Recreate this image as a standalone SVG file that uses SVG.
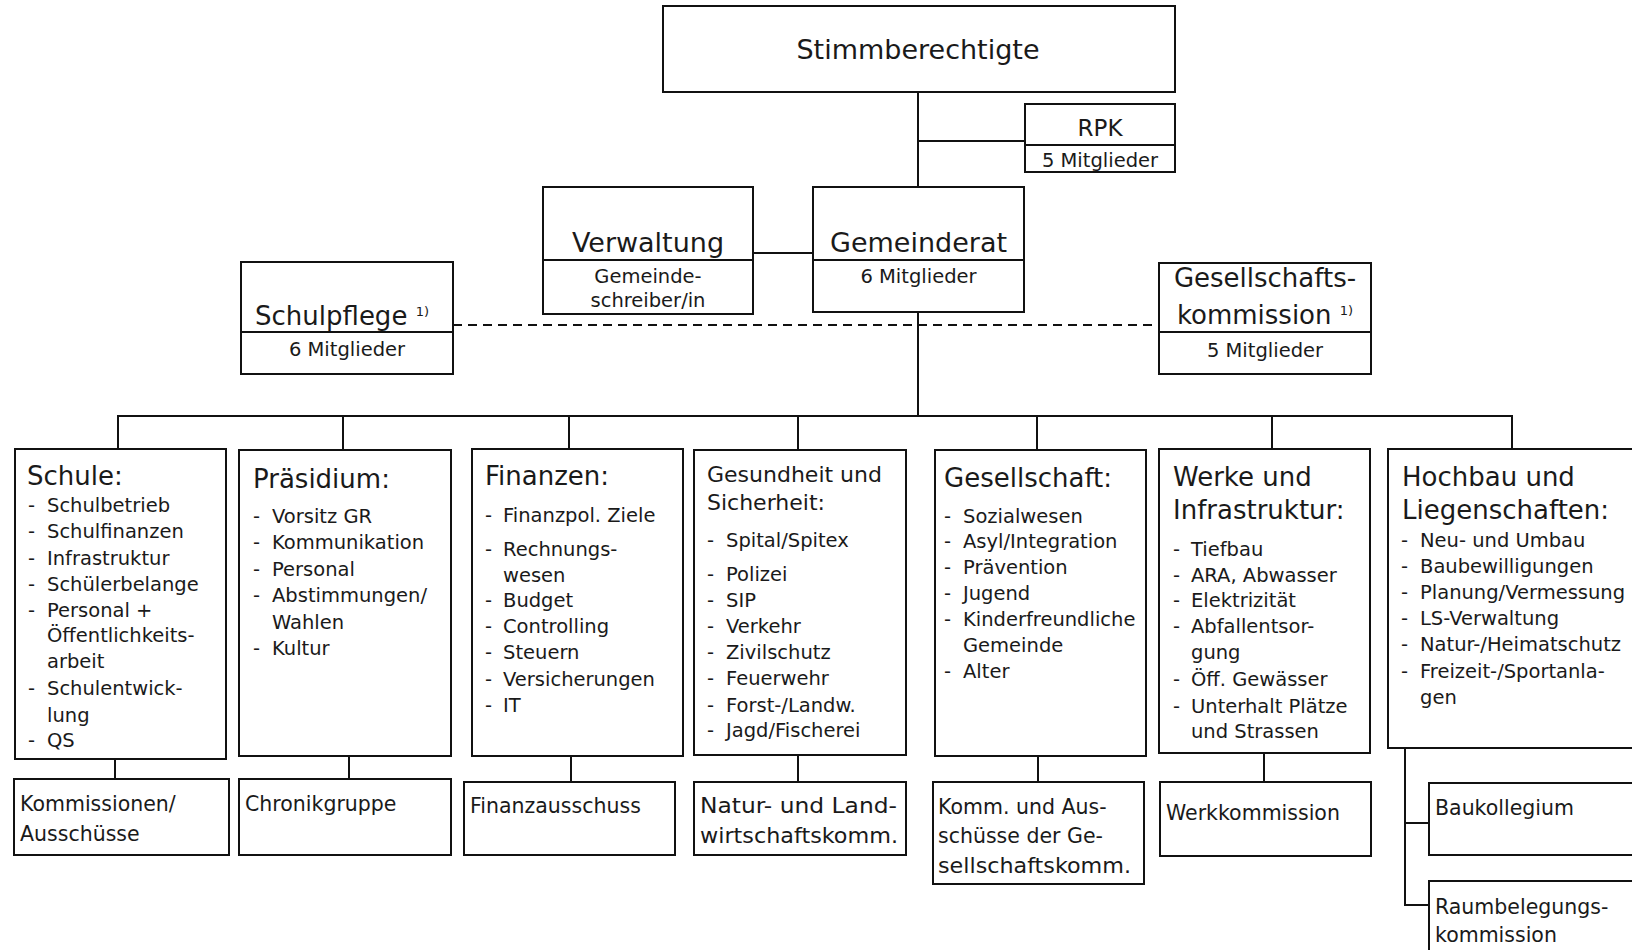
<svg xmlns="http://www.w3.org/2000/svg" width="1632" height="950" viewBox="0 0 1632 950">
<style>
.box{fill:#fff;stroke:#111;stroke-width:2}
.ln{fill:none;stroke:#111;stroke-width:2}
.dash{fill:none;stroke:#111;stroke-width:2;stroke-dasharray:9 6}
text{font-family:"DejaVu Sans","Liberation Sans",sans-serif;fill:#1a1a1a}
.t27{font-size:27px}
.h26{font-size:26px}
.h22{font-size:22px}
.li{font-size:19.5px}
.sub{font-size:19.5px}
.bt{font-size:20.5px}
.sup{font-size:13px}
.c{text-anchor:middle}
</style>
<rect x="0" y="0" width="1632" height="950" fill="#fff"/>

<g id="connectors">
<path class="ln" d="M918,92 V187"/>
<path class="ln" d="M918,141 H1025"/>
<path class="ln" d="M753,253 H813"/>
<path class="ln" d="M918,312 V416"/>
<path class="dash" d="M453,325 H1159"/>
<path class="ln" d="M118,449 V416 H1512 V449"/>
<path class="ln" d="M343,416 V450 M569,416 V449 M798,416 V450 M1037,416 V450 M1272,416 V449"/>
<path class="ln" d="M115,759 V779 M349,756 V779 M571,756 V782 M798,755 V782 M1038,756 V782 M1264,753 V782"/>
<path class="ln" d="M1405,748 V905 H1429 M1405,823 H1429"/>
</g>

<g id="stimmberechtigte">
<rect class="box" x="663" y="6" width="512" height="86"/>
<text class="t27 c" x="918" y="59">Stimmberechtigte</text>
</g>

<g id="rpk">
<rect class="box" x="1025" y="104" width="150" height="68"/>
<path class="ln" d="M1025,145 H1175"/>
<text class="c" style="font-size:23px" x="1100" y="136">RPK</text>
<text class="sub c" x="1100" y="167">5 Mitglieder</text>
</g>

<g id="verwaltung">
<rect class="box" x="543" y="187" width="210" height="127"/>
<path class="ln" d="M543,260 H753"/>
<text class="t27 c" x="648" y="252">Verwaltung</text>
<text class="sub c" x="648" y="283">Gemeinde-</text>
<text class="sub c" x="648" y="307">schreiber/in</text>
</g>

<g id="gemeinderat">
<rect class="box" x="813" y="187" width="211" height="125"/>
<path class="ln" d="M813,260 H1024"/>
<text class="t27 c" x="918.5" y="252">Gemeinderat</text>
<text class="sub c" x="918.5" y="283">6 Mitglieder</text>
</g>

<g id="schulpflege">
<rect class="box" x="241" y="262" width="212" height="112"/>
<path class="ln" d="M241,332 H453"/>
<text class="h26 c" x="342" y="325">Schulpflege <tspan class="sup" dy="-9">1)</tspan></text>
<text class="sub c" x="347" y="356">6 Mitglieder</text>
</g>

<g id="gesellschaftskommission">
<rect class="box" x="1159" y="263" width="212" height="111"/>
<path class="ln" d="M1159,332 H1371"/>
<text class="h26 c" x="1265" y="287">Gesellschafts-</text>
<text class="h26 c" x="1265" y="324">kommission <tspan class="sup" dy="-9">1)</tspan></text>
<text class="sub c" x="1265" y="357">5 Mitglieder</text>
</g>

<g id="schule">
<rect class="box" x="15" y="449" width="211" height="310"/>
<text class="h26" x="27" y="485">Schule:</text>
<g class="li">
<text x="28" y="512">-</text><text x="47" y="512">Schulbetrieb</text>
<text x="28" y="538">-</text><text x="47" y="538">Schulfinanzen</text>
<text x="28" y="565">-</text><text x="47" y="565">Infrastruktur</text>
<text x="28" y="591">-</text><text x="47" y="591">Schülerbelange</text>
<text x="28" y="617">-</text><text x="47" y="617">Personal +</text>
<text x="47" y="642">Öffentlichkeits-</text>
<text x="47" y="668">arbeit</text>
<text x="28" y="695">-</text><text x="47" y="695">Schulentwick-</text>
<text x="47" y="722">lung</text>
<text x="28" y="747">-</text><text x="47" y="747">QS</text>
</g>
</g>

<g id="praesidium">
<rect class="box" x="239" y="450" width="212" height="306"/>
<text class="h26" x="253" y="488">Präsidium:</text>
<g class="li">
<text x="253" y="523">-</text><text x="272" y="523">Vorsitz GR</text>
<text x="253" y="549">-</text><text x="272" y="549">Kommunikation</text>
<text x="253" y="576">-</text><text x="272" y="576">Personal</text>
<text x="253" y="602">-</text><text x="272" y="602">Abstimmungen/</text>
<text x="272" y="629">Wahlen</text>
<text x="253" y="655">-</text><text x="272" y="655">Kultur</text>
</g>
</g>

<g id="finanzen">
<rect class="box" x="472" y="449" width="211" height="307"/>
<text class="h26" x="485" y="485">Finanzen:</text>
<g class="li">
<text x="485" y="522">-</text><text x="503" y="522">Finanzpol. Ziele</text>
<text x="485" y="556">-</text><text x="503" y="556">Rechnungs-</text>
<text x="503" y="582">wesen</text>
<text x="485" y="607">-</text><text x="503" y="607">Budget</text>
<text x="485" y="633">-</text><text x="503" y="633">Controlling</text>
<text x="485" y="659">-</text><text x="503" y="659">Steuern</text>
<text x="485" y="686">-</text><text x="503" y="686">Versicherungen</text>
<text x="485" y="712">-</text><text x="503" y="712">IT</text>
</g>
</g>

<g id="gesundheit">
<rect class="box" x="694" y="450" width="212" height="305"/>
<text class="h22" x="707" y="482">Gesundheit und</text>
<text class="h22" x="707" y="510">Sicherheit:</text>
<g class="li">
<text x="707" y="547">-</text><text x="726" y="547">Spital/Spitex</text>
<text x="707" y="581">-</text><text x="726" y="581">Polizei</text>
<text x="707" y="607">-</text><text x="726" y="607">SIP</text>
<text x="707" y="633">-</text><text x="726" y="633">Verkehr</text>
<text x="707" y="659">-</text><text x="726" y="659">Zivilschutz</text>
<text x="707" y="685">-</text><text x="726" y="685">Feuerwehr</text>
<text x="707" y="712">-</text><text x="726" y="712">Forst-/Landw.</text>
<text x="707" y="737">-</text><text x="726" y="737">Jagd/Fischerei</text>
</g>
</g>

<g id="gesellschaft">
<rect class="box" x="935" y="450" width="211" height="306"/>
<text class="h26" x="944" y="487">Gesellschaft:</text>
<g class="li">
<text x="944" y="523">-</text><text x="963" y="523">Sozialwesen</text>
<text x="944" y="548">-</text><text x="963" y="548">Asyl/Integration</text>
<text x="944" y="574">-</text><text x="963" y="574">Prävention</text>
<text x="944" y="600">-</text><text x="963" y="600">Jugend</text>
<text x="944" y="626">-</text><text x="963" y="626">Kinderfreundliche</text>
<text x="963" y="652">Gemeinde</text>
<text x="944" y="678">-</text><text x="963" y="678">Alter</text>
</g>
</g>

<g id="werke">
<rect class="box" x="1159" y="449" width="211" height="304"/>
<text class="h26" x="1173" y="486">Werke und</text>
<text class="h26" x="1173" y="519">Infrastruktur:</text>
<g class="li">
<text x="1173" y="556">-</text><text x="1191" y="556">Tiefbau</text>
<text x="1173" y="582">-</text><text x="1191" y="582">ARA, Abwasser</text>
<text x="1173" y="607">-</text><text x="1191" y="607">Elektrizität</text>
<text x="1173" y="633">-</text><text x="1191" y="633">Abfallentsor-</text>
<text x="1191" y="659">gung</text>
<text x="1173" y="686">-</text><text x="1191" y="686">Öff. Gewässer</text>
<text x="1173" y="713">-</text><text x="1191" y="713">Unterhalt Plätze</text>
<text x="1191" y="738">und Strassen</text>
</g>
</g>

<g id="hochbau">
<rect class="box" x="1388" y="449" width="262" height="299"/>
<text class="h26" x="1402" y="486">Hochbau und</text>
<text class="h26" x="1402" y="519">Liegenschaften:</text>
<g class="li">
<text x="1401" y="547">-</text><text x="1420" y="547">Neu- und Umbau</text>
<text x="1401" y="573">-</text><text x="1420" y="573">Baubewilligungen</text>
<text x="1401" y="599">-</text><text x="1420" y="599">Planung/Vermessung</text>
<text x="1401" y="625">-</text><text x="1420" y="625">LS-Verwaltung</text>
<text x="1401" y="651">-</text><text x="1420" y="651">Natur-/Heimatschutz</text>
<text x="1401" y="678">-</text><text x="1420" y="678">Freizeit-/Sportanla-</text>
<text x="1420" y="704">gen</text>
</g>
</g>

<g id="kommissionen">
<rect class="box" x="14" y="779" width="215" height="76"/>
<text class="bt" x="20" y="811">Kommissionen/</text>
<text class="bt" x="20" y="841">Ausschüsse</text>
</g>

<g id="chronikgruppe">
<rect class="box" x="239" y="779" width="212" height="76"/>
<text class="bt" x="245" y="811">Chronikgruppe</text>
</g>

<g id="finanzausschuss">
<rect class="box" x="464" y="782" width="211" height="73"/>
<text class="bt" x="470" y="813">Finanzausschuss</text>
</g>

<g id="naturkommission">
<rect class="box" x="694" y="782" width="212" height="73"/>
<text class="bt" x="700" y="813" textLength="197" lengthAdjust="spacingAndGlyphs">Natur- und Land-</text>
<text class="bt" x="700" y="843" textLength="198" lengthAdjust="spacingAndGlyphs">wirtschaftskomm.</text>
</g>

<g id="gesellschaftsausschuesse">
<rect class="box" x="933" y="782" width="211" height="102"/>
<text class="bt" x="938" y="814">Komm. und Aus-</text>
<text class="bt" x="938" y="843">schüsse der Ge-</text>
<text class="bt" x="938" y="873" textLength="193" lengthAdjust="spacingAndGlyphs">sellschaftskomm.</text>
</g>

<g id="werkkommission">
<rect class="box" x="1160" y="782" width="211" height="74"/>
<text class="bt" x="1166" y="820">Werkkommission</text>
</g>

<g id="baukollegium">
<rect class="box" x="1429" y="783" width="230" height="72"/>
<text class="bt" x="1435" y="815">Baukollegium</text>
</g>

<g id="raumbelegungskommission">
<rect class="box" x="1429" y="881" width="230" height="90"/>
<text class="bt" x="1435" y="914">Raumbelegungs-</text>
<text class="bt" x="1435" y="942">kommission</text>
</g>
</svg>
